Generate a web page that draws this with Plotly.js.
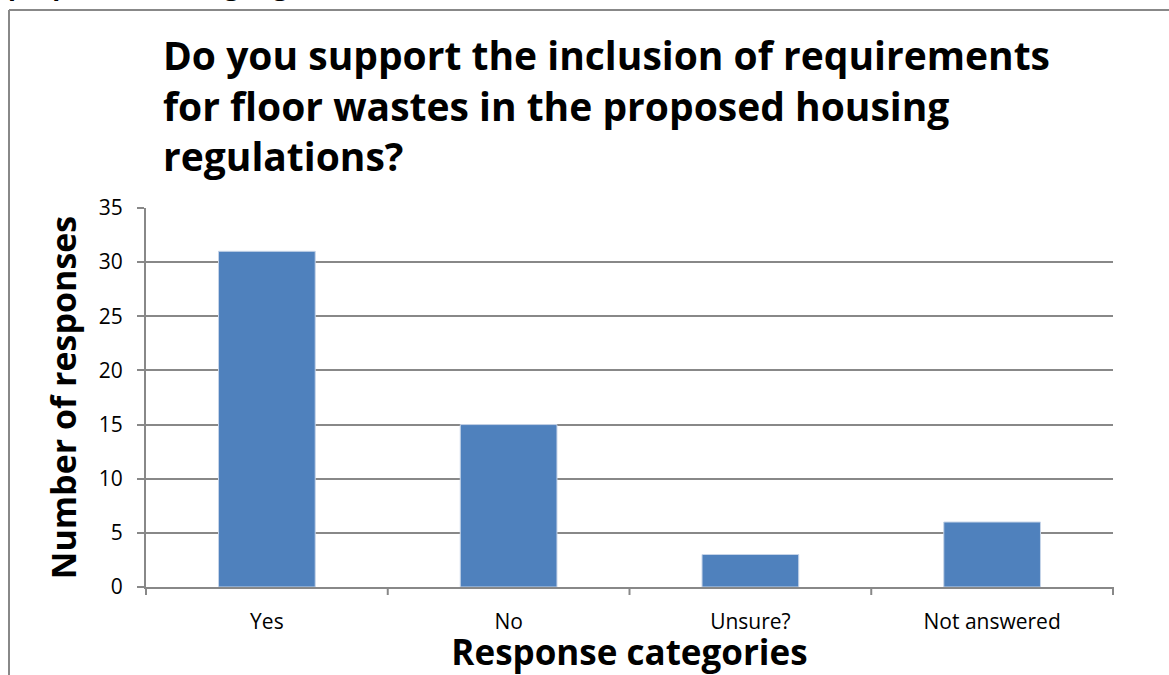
<!DOCTYPE html>
<html>
<head>
<meta charset="utf-8">
<script src="https://cdn.plot.ly/plotly-3.0.1.min.js"></script>
<style>
html,body{margin:0;padding:0;background:#fff;}
#chart{width:1169px;height:675px;}
</style>
</head>
<body>
<div id="chart"></div>
<script>
const categories = ["Yes", "No", "Unsure?", "Not answered"];
const responses = [31, 15, 3, 6];
const yTickVals = [0, 5, 10, 15, 20, 25, 30, 35];

const titleText = "Do you support the inclusion of requirements<br>for floor wastes in the proposed housing<br>regulations?";
const W = 1169, H = 675;
const L = 146, R = 56, T = 208, B = 88;
const pw = W - L - R, ph = H - T - B;
const px = x => (x - L) / pw;
const py = y => (H - B - y) / ph;

const font = "'Open Sans', 'Liberation Sans', sans-serif";

const trace = {
  type: "bar",
  x: categories,
  y: responses,
  width: 0.4,
  marker: {color: "#4F81BD", line: {color: "#c6d4e8", width: 1}},
  hoverinfo: "x+y"
};

const layout = {
  width: W, height: H,
  margin: {l: L, r: R, t: T, b: B, pad: 0},
  paper_bgcolor: "#fff",
  plot_bgcolor: "#fff",
  showlegend: false,
  bargap: 0.6,
  font: {family: font, color: "#000"},
  xaxis: {
    type: "category",
    range: [-0.5, 3.5],
    showgrid: false,
    zeroline: false,
    showline: true,
    linecolor: "#888",
    linewidth: 2,
    ticks: "",
    ticklabelstandoff: 15,
    tickfont: {family: font, size: 21, color: "#000"},
    title: {text: "<b>Response categories</b>", font: {family: font, size: 35, color: "#000"}, standoff: 4}
  },
  yaxis: {
    range: [0, 35],
    tickvals: yTickVals,
    showgrid: true,
    gridcolor: "#888",
    gridwidth: 2,
    zeroline: false,
    showline: true,
    linecolor: "#888",
    linewidth: 2,
    ticks: "outside",
    ticklen: 7,
    tickwidth: 2,
    tickcolor: "#888",
    ticklabelstandoff: 10,
    tickfont: {family: font, size: 21, color: "#000"},
    title: {text: "<b>Number of responses</b>", font: {family: font, size: 34, color: "#000"}, standoff: 12}
  },
  shapes: [
    ...[0, 1, 2, 3, 4].map(i => ({
      type: "line", xref: "paper", yref: "paper",
      x0: i / 4, x1: i / 4, y0: 0, y1: -8 / ph,
      line: {color: "#888", width: 2}
    })),
    {type: "line", xref: "paper", yref: "paper",
     x0: px(9), x1: px(9), y0: py(10), y1: py(700),
     line: {color: "#888", width: 2}},
    {type: "line", xref: "paper", yref: "paper",
     x0: px(9), x1: px(1200), y0: py(10), y1: py(10),
     line: {color: "#888", width: 2}}
  ],
  annotations: [
    {text: "<b>" + titleText + "</b>", xref: "paper", yref: "paper",
     x: px(161), xanchor: "left", y: py(26), yanchor: "top", align: "left",
     showarrow: false, font: {family: font, size: 39, color: "#000"}},
    {text: "<b>proposed housing regulations</b>", xref: "paper", yref: "paper",
     x: px(6), xanchor: "left", y: py(-15), yanchor: "middle",
     showarrow: false, font: {family: font, size: 26, color: "#000"}}
  ]
};

Plotly.newPlot("chart", [trace], layout, {displayModeBar: false, staticPlot: true});
</script>
</body>
</html>
